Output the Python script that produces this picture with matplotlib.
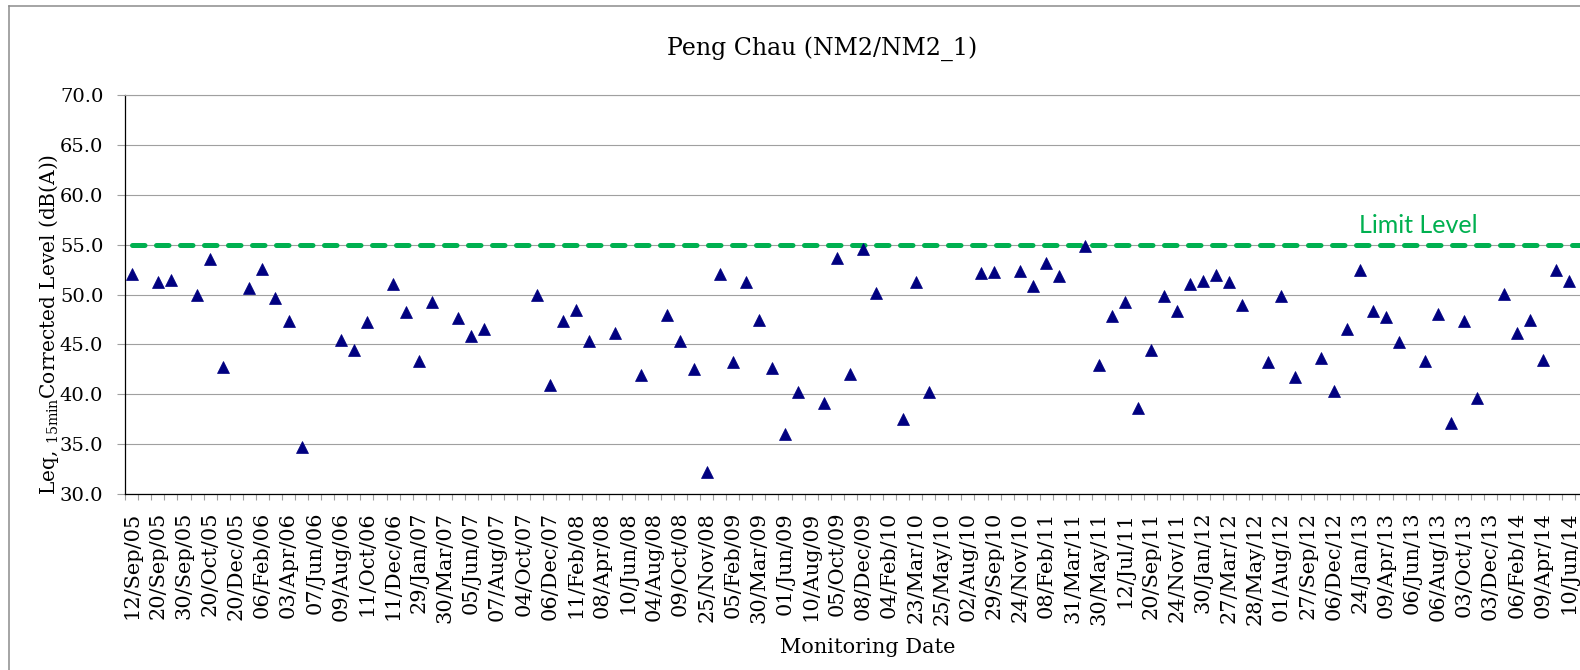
import matplotlib
matplotlib.use("Agg")
import matplotlib.pyplot as plt
import numpy as np
from matplotlib.lines import Line2D
from matplotlib.ticker import FixedLocator, NullFormatter

# monitoring results, one slot per category on the axis (None = no reading)
levels = [
    52.1, None, 51.3, 51.5, None, 49.9, 53.6, 42.7, None, 50.7,
    52.6, 49.6, 47.3, 34.7, None, None, 45.4, 44.4, 47.2, None,
    51.1, 48.2, 43.3, 49.2, None, 47.6, 45.8, 46.5, None, None,
    None, 50.0, 40.9, 47.3, 48.4, 45.3, None, 46.1, None, 41.9,
    None, 47.9, 45.3, 42.5, 32.2, 52.1, 43.2, 51.3, 47.4, 42.6,
    36.0, 40.2, None, 39.1, 53.7, 42.0, 54.6, 50.2, None, 37.5,
    51.3, 40.2, None, None, None, 52.2, 52.3, None, 52.4, 50.9,
    53.2, 51.9, None, 54.9, 42.9, 47.8, 49.2, 38.6, 44.4, 49.8,
    48.3, 51.1, 51.4, 52.0, 51.3, 48.9, None, 43.2, 49.8, 41.7,
    None, 43.6, 40.3, 46.5, 52.5, 48.3, 47.7, 45.2, None, 43.3,
    48.0, 37.1, 47.3, 39.6, None, 50.1, 46.1, 47.4, 43.4, 52.5,
    51.4, None,
]

# only every second date is printed on the axis
shown_dates = [
    "12/Sep/05", "20/Sep/05", "30/Sep/05", "20/Oct/05", "20/Dec/05", "06/Feb/06",
    "03/Apr/06", "07/Jun/06", "09/Aug/06", "11/Oct/06", "11/Dec/06", "29/Jan/07",
    "30/Mar/07", "05/Jun/07", "07/Aug/07", "04/Oct/07", "06/Dec/07", "11/Feb/08",
    "08/Apr/08", "10/Jun/08", "04/Aug/08", "09/Oct/08", "25/Nov/08", "05/Feb/09",
    "30/Mar/09", "01/Jun/09", "10/Aug/09", "05/Oct/09", "08/Dec/09", "04/Feb/10",
    "23/Mar/10", "25/May/10", "02/Aug/10", "29/Sep/10", "24/Nov/10", "08/Feb/11",
    "31/Mar/11", "30/May/11", "12/Jul/11", "20/Sep/11", "24/Nov/11", "30/Jan/12",
    "27/Mar/12", "28/May/12", "01/Aug/12", "27/Sep/12", "06/Dec/12", "24/Jan/13",
    "09/Apr/13", "06/Jun/13", "06/Aug/13", "03/Oct/13", "03/Dec/13", "06/Feb/14",
    "09/Apr/14", "10/Jun/14",
]

limit_level = 55.0
y_ticks = [30, 35, 40, 45, 50, 55, 60, 65, 70]

plt.rcParams["font.family"] = "DejaVu Serif"
plt.rcParams["mathtext.fontset"] = "dejavuserif"

W, H = 1580, 670
fig = plt.figure(figsize=(W / 100, H / 100), dpi=100)

# plot area in pixels (runs a little past the right edge, as in the crop)
left, right, top, bottom = 125.2, 1588.5, 95.3, 493.7
ax = fig.add_axes([left / W, 1 - bottom / H, (right - left) / W, (bottom - top) / H])

x = np.arange(len(levels))
y = np.array([np.nan if v is None else v for v in levels])

ax.plot([x[0], x[-1]], [limit_level, limit_level], color="#00B050", lw=3.6,
        linestyle=(0, (2.5, 2.3)), dash_capstyle="round", zorder=2)
ax.plot(x, y, linestyle="none", marker="^", ms=8.6, color="#000080",
        mec="#000080", mew=0.5, zorder=3)

ax.set_xlim(-0.5, len(levels) - 0.5)
ax.set_ylim(30, 70)

# y axis
ax.set_yticks(y_ticks)
ax.set_yticklabels([f"{v:.1f}" for v in y_ticks], fontsize=14)
ax.tick_params(axis="y", direction="out", length=5.8, width=0.8, color="#A0A0A0",
               pad=10)
ax.grid(axis="y", color="#A0A0A0", lw=0.8, zorder=0)

# x axis: boundary ticks for every category, a label on every other one
ax.set_xticks(x[::2])
ax.set_xticklabels(shown_dates, rotation=90, fontsize=15)
ax.xaxis.set_minor_locator(FixedLocator(np.arange(len(levels) + 1) - 0.5))
ax.xaxis.set_minor_formatter(NullFormatter())
ax.tick_params(axis="x", which="major", length=0, pad=13)
ax.tick_params(axis="x", which="minor", direction="out", length=4.3, width=0.8,
               color="#A0A0A0")

for s in ["left", "bottom"]:
    ax.spines[s].set_color("black")
    ax.spines[s].set_linewidth(0.9)
ax.spines["right"].set_visible(False)
ax.spines["top"].set_color("#A0A0A0")
ax.spines["top"].set_linewidth(0.8)

ax.text(98.5, 56.2, "Limit Level", color="#00B050", fontsize=18, family="Lato",
        ha="center", va="baseline")

fig.text(821.7 / W, 1 - 55 / H, "Peng Chau (NM2/NM2_1)", fontsize=17,
         ha="center", va="baseline")
fig.text(868 / W, 1 - 653 / H, "Monitoring Date", fontsize=15,
         ha="center", va="baseline")
fig.text(55 / W, 1 - 324.5 / H, r"Leq, $_{\mathrm{15min}}$Corrected Level (dB(A))",
         fontsize=14.5, rotation=90, rotation_mode="anchor",
         ha="center", va="baseline")

# chart area border (only the left and top edges fall inside the crop)
fig.add_artist(Line2D([8.5 / W, 8.5 / W], [0, 1 - 5.5 / H], color="#8C8C8C",
                      lw=1.1, transform=fig.transFigure))
fig.add_artist(Line2D([8.5 / W, 1], [1 - 5.5 / H, 1 - 5.5 / H], color="#8C8C8C",
                      lw=1.1, transform=fig.transFigure))

fig.savefig("out.png", dpi=100)
